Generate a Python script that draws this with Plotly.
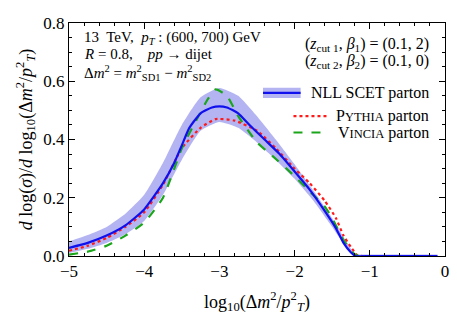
import plotly.graph_objects as go

# NLL SCET parton (central curve)
nll_x = [-5, -4.75, -4.5, -4.25, -4, -3.75, -3.6, -3.5, -3.4, -3.25, -3.1, -3.0, -2.9, -2.75,
         -2.6, -2.4, -2.2, -2.0, -1.8, -1.6, -1.45, -1.35, -1.25, -1.19, -1.0, -0.5, -0.1]
nll_y = [0.028, 0.045, 0.07, 0.105, 0.16, 0.25, 0.32, 0.38, 0.44, 0.49, 0.51, 0.514, 0.51, 0.49,
         0.45, 0.4, 0.35, 0.29, 0.228, 0.155, 0.095, 0.045, 0.012, 0.0, 0.0, 0.0, 0.0]

# uncertainty band
band_x = [-5, -4.75, -4.5, -4.25, -4, -3.75, -3.5, -3.25, -3.0, -2.75, -2.5, -2.25, -2.0,
          -1.75, -1.5, -1.3, -1.2, -1.0, -0.5, -0.1]
band_hi = [0.05, 0.072, 0.1, 0.145, 0.21, 0.32, 0.45, 0.545, 0.577, 0.55, 0.48, 0.4, 0.315,
           0.225, 0.13, 0.045, 0.008, 0.005, 0.005, 0.005]
band_lo = [0.01, 0.025, 0.045, 0.075, 0.12, 0.21, 0.33, 0.43, 0.46, 0.44, 0.39, 0.33, 0.265,
           0.19, 0.1, 0.025, 0.0, 0.0, 0.0, 0.0]

# Pythia parton
py_x = [-5, -4.75, -4.5, -4.25, -4, -3.75, -3.5, -3.25, -3.05, -2.8, -2.5, -2.25, -2.0,
        -1.8, -1.6, -1.45, -1.35, -1.25, -1.17, -1.1, -0.6]
py_y = [0.018, 0.035, 0.062, 0.1, 0.15, 0.245, 0.37, 0.44, 0.47, 0.465, 0.43, 0.37, 0.3,
        0.25, 0.19, 0.13, 0.07, 0.03, 0.003, 0.0, 0.0]

# Vincia parton
vi_x = [-5, -4.75, -4.5, -4.25, -4, -3.75, -3.5, -3.3, -3.15, -3.05, -2.9, -2.75, -2.5,
        -2.3, -2.0, -1.8, -1.6, -1.5, -1.35, -1.22, -1.15, -0.6]
vi_y = [0.005, 0.015, 0.035, 0.07, 0.115, 0.2, 0.37, 0.47, 0.54, 0.572, 0.55, 0.48, 0.39,
        0.345, 0.274, 0.222, 0.17, 0.13, 0.055, 0.01, 0.0, 0.0]

FONT = "Liberation Serif, Times New Roman, serif"

fig = go.Figure()
fig.add_trace(go.Scatter(x=band_x, y=band_hi, mode="lines",
                         line=dict(width=0, shape="spline", smoothing=0.5),
                         showlegend=False, hoverinfo="skip"))
fig.add_trace(go.Scatter(x=band_x, y=band_lo, mode="lines",
                         line=dict(width=0, shape="spline", smoothing=0.5),
                         fill="tonexty", fillcolor="#b4b4f2", showlegend=False, hoverinfo="skip"))
fig.add_trace(go.Scatter(x=py_x, y=py_y, mode="lines", name="Pythia parton",
                         line=dict(color="#ff1a1a", width=2.2, dash="dot", shape="spline", smoothing=0.5)))
fig.add_trace(go.Scatter(x=vi_x, y=vi_y, mode="lines", name="Vincia parton",
                         line=dict(color="#1aa51a", width=2.2, dash="dash", shape="spline", smoothing=0.5)))
fig.add_trace(go.Scatter(x=nll_x, y=nll_y, mode="lines", name="NLL SCET parton",
                         line=dict(color="#1010ee", width=2.2, shape="spline", smoothing=0.5)))

axis_common = dict(showline=True, linecolor="black", linewidth=1, mirror="ticks",
                   ticks="inside", ticklen=6, tickcolor="black", showgrid=False, zeroline=False,
                   tickfont=dict(family=FONT, size=17, color="black"))

fig.update_xaxes(range=[-5, 0], dtick=1, minor=dict(dtick=0.2, ticks="inside", ticklen=3,
                 tickcolor="black"),
                 title=dict(text="log<sub>10</sub>(Δ<i>m</i><sup>2</sup>/<i>p</i><sup>2</sup><sub><i>T</i></sub>)",
                            font=dict(family=FONT, size=18), standoff=14),
                 **axis_common)
fig.update_yaxes(range=[0, 0.8], dtick=0.2, tickformat=".1f",
                 minor=dict(dtick=0.05, ticks="inside", ticklen=3, tickcolor="black"),
                 title=dict(text="<i>d</i> log(<i>σ</i>)/<i>d</i> log<sub>10</sub>(Δ<i>m</i><sup>2</sup>/<i>p</i><sup>2</sup><sub><i>T</i></sub>)",
                            font=dict(family=FONT, size=18), standoff=6),
                 **axis_common)

txt = dict(family=FONT, size=15, color="black")
txt_r = dict(family=FONT, size=16, color="black")
notes = [
    (0.034, 0.936, "left", "13  TeV,  <i>p<sub>T</sub></i> : (600, 700) GeV", txt),
    (0.034, 0.868, "left", "<i>R</i> = 0.8,    <i>pp</i> → dijet", txt),
    (0.034, 0.785, "left", "Δ<i>m</i><sup>2</sup> = <i>m</i><sup>2</sup><sub>SD1</sub> − <i>m</i><sup>2</sup><sub>SD2</sub>", txt),
    (0.963, 0.906, "right", "(<i>z</i><sub>cut 1</sub>, <i>β</i><sub>1</sub>) = (0.1, 2)", txt_r),
    (0.963, 0.833, "right", "(<i>z</i><sub>cut 2</sub>, <i>β</i><sub>2</sub>) = (0.1, 0)", txt_r),
    (0.963, 0.700, "right", "NLL SCET parton", txt_r),
    (0.963, 0.600, "right", "P<span style='font-size:12.5px'>YTHIA</span> parton", txt_r),
    (0.963, 0.530, "right", "V<span style='font-size:12.5px'>INCIA</span> parton", txt_r),
]
for x, y, anc, t, f in notes:
    fig.add_annotation(x=x, y=y, xref="paper", yref="paper", text=t, showarrow=False,
                       xanchor=anc, yanchor="middle", font=f)

# hand-drawn legend samples
fig.add_shape(type="rect", xref="paper", yref="paper", x0=0.516, x1=0.616, y0=0.678, y1=0.722,
              fillcolor="#b4b4f2", line_width=0)
fig.add_shape(type="line", xref="paper", yref="paper", x0=0.516, x1=0.616, y0=0.700, y1=0.700,
              line=dict(color="#1010ee", width=2.2))
fig.add_shape(type="line", xref="paper", yref="paper", x0=0.597, x1=0.687, y0=0.600, y1=0.600,
              line=dict(color="#ff1a1a", width=2.2, dash="dot"))
fig.add_shape(type="line", xref="paper", yref="paper", x0=0.597, x1=0.687, y0=0.530, y1=0.530,
              line=dict(color="#1aa51a", width=2.2, dash="dash"))

fig.update_layout(width=457, height=327, showlegend=False,
                  margin=dict(l=69, r=8, t=23, b=71),
                  plot_bgcolor="white", paper_bgcolor="white",
                  font=dict(family=FONT, color="black"))

# drop the page's default 8px body margin so the figure sits at the corner
fig.write_html("out.html", config={"displayModeBar": False},
               post_script="document.body.style.margin='0';")
